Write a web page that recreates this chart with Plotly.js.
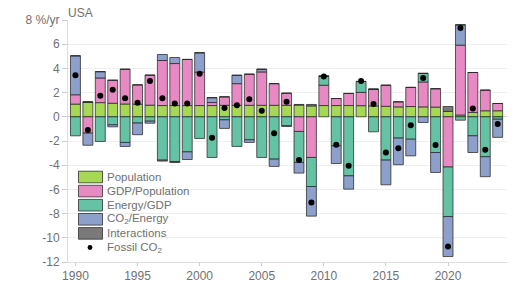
<!DOCTYPE html>
<html>
<head>
<meta charset="utf-8">
<script src="https://cdn.plot.ly/plotly-3.0.1.min.js"></script>
<style>html,body{margin:0;padding:0;background:#fff;}#chart{width:513px;height:283px;}</style>
</head>
<body>
<div id="chart"></div>
<script>
const years = [1990,1991,1992,1993,1994,1995,1996,1997,1998,1999,2000,2001,2002,2003,2004,2005,2006,2007,2008,2009,2010,2011,2012,2013,2014,2015,2016,2017,2018,2019,2020,2021,2022,2023,2024];
const population = [1.05,1.22,1.17,1.12,1.06,1.04,0.96,0.93,0.93,0.93,0.93,0.93,0.95,0.95,0.95,0.95,0.95,0.95,0.97,0.9,0.93,0.93,0.93,0.92,0.9,0.87,0.82,0.85,0.82,0.8,0.45,0.15,0.36,0.5,0.5];
const gdpPerPop = [0.77,-1.35,2.04,1.9,2.87,1.6,2.48,3.72,3.47,3.81,2.76,0.25,0.7,1.79,2.57,2.76,1.79,1.0,-1.21,-3.36,1.68,0.58,1.0,1.1,1.38,1.74,0.42,1.58,2.06,1.52,-4.15,5.77,3.3,1.7,0.6];
const energyPerGdp = [-1.57,0,-2.04,-0.66,-2.12,-0.52,-0.36,-3.58,-3.7,-2.9,-1.79,-3.36,-0.25,-2.45,-1.9,-3.36,-3.5,-0.74,-2.56,-2.4,0.75,-2.4,-4.88,0.9,-1.24,-3.58,-1.76,-1.85,0.71,-2.95,-4.1,-0.28,-1.57,-3.3,-0.2];
const co2PerEnergy = [3.22,-1.0,0.52,-0.17,-0.33,-0.96,-0.17,0.5,0.5,-0.63,1.6,0.4,-0.71,0.69,-0.22,0.22,-0.6,-0.05,-0.88,-2.45,0,-1.46,-1.1,0,0,-2.04,-2.2,-1.38,-0.47,-1.65,-3.3,1.68,-1.38,-1.65,-1.5];
const interactions = [0,0,0,0,0,0,0,-0.08,-0.08,0,0,0,0,0,0,0,0,0,0.05,0.12,0,0,0,0,0,0,0,0,0,0,0.4,0,0,0,0];
const fossilCO2 = [3.44,-1.1,1.74,2.23,1.54,1.16,2.95,1.54,1.1,1.1,3.55,-1.74,0.72,0.96,1.46,0.5,-1.35,1.24,-3.58,-7.08,3.33,-2.31,-4.05,2.95,1.05,-2.95,-2.59,-0.69,3.2,-2.34,-10.72,7.33,0.69,-2.73,-0.6];
const yTickVals = [-12,-10,-8,-6,-4,-2,0,2,4,6,8];
const yTickText = ['-12','-10','-8','-6','-4','-2','0','2','4','6','8 %/yr'];
const xTickVals = [1990,1995,2000,2005,2010,2015,2020];
const seriesNames = ['Population','GDP/Population','Energy/GDP','CO<sub>2</sub>/Energy','Interactions'];
const seriesColors = ['#a6d854','#e78ac3','#66c2a5','#8da0cb','#7a7a7a'];
const dotName = 'Fossil CO<sub>2</sub>';

const seriesValues = [population, gdpPerPop, energyPerGdp, co2PerEnergy, interactions];
const lineStyle = {color:'rgba(40,40,40,0.75)', width:1};
const traces = seriesValues.map((vals,i)=>({
  type:'bar', name:seriesNames[i], x:years, y:vals, width:0.8,
  marker:{color:seriesColors[i], line:lineStyle}, showlegend:false
}));
traces.push({type:'scatter', mode:'markers', name:dotName, x:years, y:fossilCO2,
  marker:{color:'#000', size:6}, showlegend:false});

// plot area geometry (pixels) for the hand-built legend
const W = 513, H = 283, ML = 68, MR = 6, MT = 20, MB = 21;
const PW = W-ML-MR, PH = H-MT-MB;
const px = x => (x-ML)/PW;
const py = y => (H-MB-y)/PH;
const gray = '#707070';

const shapes = [];
const annotations = [];
// white backdrop behind legend
shapes.push({type:'rect', xref:'paper', yref:'paper', layer:'between',
  x0:px(70), x1:px(186), y0:py(168), y1:py(256), fillcolor:'#fff', line:{width:0}});
const legendTop = 177, legendStep = 14.1;
const allNames = seriesNames.concat([dotName]);
allNames.forEach((nm,i)=>{
  const cy = legendTop + i*legendStep;
  if (i < seriesNames.length) {
    shapes.push({type:'rect', xref:'paper', yref:'paper', layer:'above',
      x0:px(78.5), x1:px(102.5), y0:py(cy+5.8), y1:py(cy-5.8),
      fillcolor:seriesColors[i], line:{color:'rgba(40,40,40,0.75)', width:1}});
  } else {
    shapes.push({type:'circle', xref:'paper', yref:'paper', layer:'above',
      x0:px(87.6), x1:px(92.4), y0:py(cy+2.4), y1:py(cy-2.4),
      fillcolor:'#000', line:{width:0}});
  }
  annotations.push({xref:'paper', yref:'paper', x:px(104.5), y:py(cy), xanchor:'left', yanchor:'middle',
    text:nm, showarrow:false, font:{size:11.5, color:gray}});
});

const layout = {
  width:W, height:H,
  margin:{l:ML, r:MR, t:MT, b:MB},
  paper_bgcolor:'#fff', plot_bgcolor:'#fff',
  barmode:'relative',
  font:{family:'Liberation Sans, Arial, sans-serif', size:11, color:gray},
  title:{text:'USA', x:0, xref:'paper', xanchor:'left', y:0.955, yref:'container', yanchor:'middle',
    font:{size:12, color:gray}},
  showlegend:false,
  shapes:shapes,
  annotations:annotations,
  xaxis:{range:[1989.4,2024.75], tickvals:xTickVals, ticks:'outside', ticklen:3, tickcolor:'#ccc',
    showgrid:false, showline:true, linecolor:'#ddd', zeroline:false,
    tickfont:{size:12, color:gray}},
  yaxis:{range:[-12,8], tickvals:yTickVals, ticktext:yTickText, ticks:'outside', ticklen:5, tickcolor:'#ccc',
    showgrid:true, gridcolor:'#efefef', showline:true, linecolor:'#ddd',
    zeroline:true, zerolinecolor:'#cfcfcf', zerolinewidth:1,
    tickfont:{size:12, color:gray}}
};
Plotly.newPlot('chart', traces, layout, {displayModeBar:false, staticPlot:true});
</script>
</body>
</html>
